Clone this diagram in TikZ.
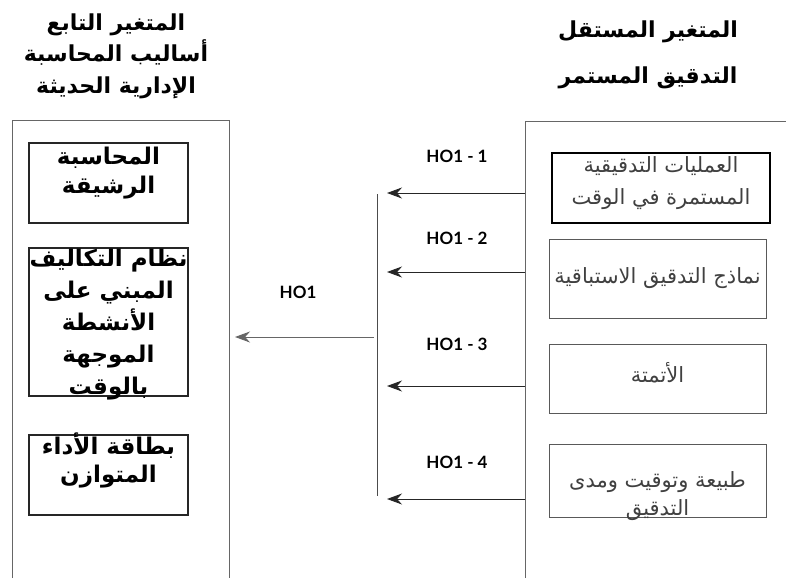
\documentclass[tikz,border=0pt]{standalone}
\usepackage{fontspec}
\setmainfont{Lato}
\newfontfamily\arabicfont[Script=Arabic]{DejaVu Sans}
\TeXXeTstate=1
\usetikzlibrary{arrows.meta}
\newcommand{\rtline}[1]{\beginR #1\endR}

\tikzset{
  frame/.style={draw=black!60, line width=0.8pt},
  lbox/.style={draw=black!85, line width=2pt, minimum width=159pt},
  rbox/.style={draw=black!65, line width=0.8pt, minimum width=217pt},
  ltxt/.style={align=center, font=\arabicfont\bfseries\fontsize{23pt}{32pt}\selectfont},
  rtxt/.style={align=center, text=black!75, font=\arabicfont\fontsize{21pt}{32pt}\selectfont},
  head/.style={align=center, font=\arabicfont\bfseries\fontsize{22pt}{31.5pt}\selectfont},
  hyp/.style={font=\bfseries\fontsize{17pt}{19pt}\selectfont},
  arr/.style={-{Stealth[length=15pt,width=11pt]}, line width=0.9pt, draw=black!85}
}

\begin{document}
\begin{tikzpicture}[x=1pt,y=-1pt]
  \useasboundingbox (0,0) rectangle (786,578);

  % titles
  \node[head] (dephead) at (116,56)
    {\rtline{المتغير التابع}\\\rtline{أساليب المحاسبة}\\\rtline{الإدارية الحديثة}};
  \node[head, font=\arabicfont\bfseries\fontsize{22pt}{46pt}\selectfont] (indhead) at (648,55)
    {\rtline{المتغير المستقل}\\\rtline{التدقيق المستمر}};

  % the two frames
  \draw[frame] (12,578) -- (12,120) -- (229,120) -- (229,578);
  \draw[frame] (525,578) -- (525,121) -- (786,121);

  % dependent side
  \node[lbox, minimum height=80pt] (leanbox) at (108.5,183) {};
  \node[ltxt, font=\arabicfont\bfseries\fontsize{23pt}{29pt}\selectfont] (lean) at (108.5,173)
    {\rtline{المحاسبة}\\\rtline{الرشيقة}};
  \node[lbox, minimum height=148pt] (tdabcbox) at (108.5,322) {};
  \node[ltxt] (tdabc) at (108.5,325)
    {\rtline{نظام التكاليف}\\\rtline{المبني على}\\\rtline{الأنشطة}\\\rtline{الموجهة}\\\rtline{بالوقت}};
  \node[lbox, minimum height=80pt] (bscbox) at (108.5,475) {};
  \node[ltxt, font=\arabicfont\bfseries\fontsize{23pt}{28pt}\selectfont] (bsc) at (108.5,460.5)
    {\rtline{بطاقة الأداء}\\\rtline{المتوازن}};

  % independent side
  \node[rbox, draw=black, line width=2.4pt, minimum width=218pt, minimum height=70pt] (rtbox) at (661,188) {};
  \node[rtxt] (rt) at (661,183) {\rtline{العمليات التدقيقية}\\\rtline{المستمرة في الوقت}};
  \node[rbox, minimum height=79pt] (predbox) at (657.5,278.5) {};
  \node[rtxt] (pred) at (657.5,278) {\rtline{نماذج التدقيق الاستباقية}};
  \node[rbox, minimum height=69pt] (autobox) at (657.5,378.5) {};
  \node[rtxt] (auto) at (657.5,373) {\rtline{الأتمتة}};
  \node[rbox, minimum height=73pt] (naturebox) at (657.5,480.5) {};
  \node[rtxt, font=\arabicfont\fontsize{21pt}{28pt}\selectfont] (nature) at (657.5,496)
    {\rtline{طبيعة وتوقيت ومدى}\\\rtline{التدقيق}};

  % sub hypotheses
  \foreach \i/\y/\ly in {1/193/156, 2/272/238, 3/386/344, 4/499/462} {
    \coordinate (src\i) at (525,\y);
    \coordinate (tip\i) at (387,\y);
    \draw[arr] (src\i) -- (tip\i);
    \node[hyp] (h\i) at (457,\ly) {HO1 - \i};
  }

  % main hypothesis
  \coordinate (bustop) at (377,194);
  \coordinate (busbot) at (377,496);
  \draw[black!70, line width=0.9pt] (bustop) -- (busbot);
  \coordinate (mainsrc) at (374,337);
  \coordinate (maintip) at (235,337);
  \draw[arr, draw=black!60] (mainsrc) -- (maintip);
  \node[hyp] (h0) at (298,292) {HO1};
\end{tikzpicture}
\end{document}
